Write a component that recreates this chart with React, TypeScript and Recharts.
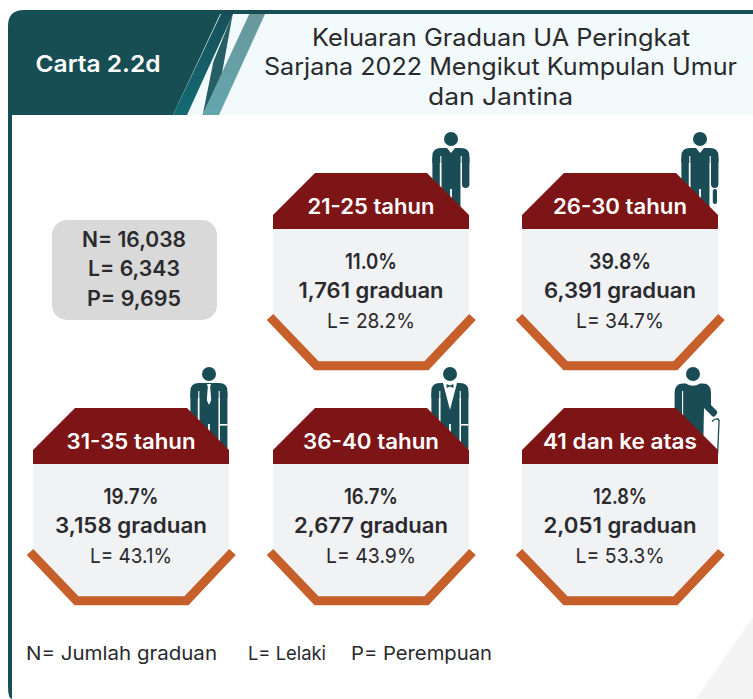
import React from "react";
import { ScatterChart, Scatter, XAxis, YAxis } from "recharts";

const WIDTH = 753;
const HEIGHT = 699;
const FONT = "Inter, 'Noto Sans', sans-serif";

const TEAL = "#164e53";
const PERSON = "#1a4c55";
const RED = "#7d1416";
const ORANGE = "#c65f2a";
const INK = "#2a2a2e";

// values
const ageGroups = ["21-25 tahun", "26-30 tahun", "31-35 tahun", "36-40 tahun", "41 dan ke atas"];
const sharePct = ["11.0%", "39.8%", "19.7%", "16.7%", "12.8%"];
const graduates = ["1,761", "6,391", "3,158", "2,677", "2,051"];
const malePct = ["28.2%", "34.7%", "43.1%", "43.9%", "53.3%"];
const totals = ["N= 16,038", "L= 6,343", "P= 9,695"];
const titleLines = [
  "Keluaran Graduan UA Peringkat",
  "Sarjana 2022 Mengikut Kumpulan Umur",
  "dan Jantina",
];
const notes = ["N= Jumlah graduan", "L= Lelaki", "P= Perempuan"];

// where each card sits in the layout (top centre of the card)
const slotX = [371, 620, 131, 371, 620];
const slotY = [173, 173, 408, 408, 408];
const personDx = [80, 80, 78, 79, 73];
const labelWidths = [127, 134, 129, 136, 154];
const shareWidths = [52, 62, 55, 54, 54];
const gradWidths = [145, 152, 152, 154, 153];
const maleWidths = [88, 88, 82, 90, 89];

const cards = ageGroups.map((age, i) => ({
  age,
  share: sharePct[i],
  grads: graduates[i],
  male: malePct[i],
  index: i,
  x: slotX[i],
  y: slotY[i],
}));

type TxtProps = {
  x: number;
  y: number;
  size: number;
  weight?: number;
  fill?: string;
  anchor?: "start" | "middle";
  width: number;
  children: React.ReactNode;
};

const Txt = ({ x, y, size, weight = 400, fill = INK, anchor = "middle", width, children }: TxtProps) => (
  <text
    x={x}
    y={y}
    fontFamily={FONT}
    fontSize={size}
    fontWeight={weight}
    fill={fill}
    textAnchor={anchor}
    textLength={width}
    lengthAdjust="spacingAndGlyphs"
  >
    {children}
  </text>
);

const Person = ({ x, y, kind }: { x: number; y: number; kind: number }) => {
  const longArms = kind === 2 || kind === 3;
  const armEnd = longArms ? 74 : 46;
  if (kind === 4) {
    return (
      <g transform={`translate(${x},${y})`}>
        <path
          d="M-18.4 19 Q-18.4 9.5 -10 9.5 L-7 9.5 Q0 14 7 9.5 L10 9.5 Q18 9.5 18 19 L18 31 L24 37 Q25 39 23 41 L21.5 42.5 Q20 43 19 42 L11 34 L10 84 L-10 84 L-10.6 80 L-18.4 80 Z"
          fill={PERSON}
        />
        <circle cx={0} cy={0} r={7} fill={PERSON} />
        <line x1={-10.4} y1={17} x2={-10.4} y2={84} stroke="#fff" strokeWidth={1.1} />
        <path
          d="M19 47.5 Q21.5 44.5 24.5 45 Q26.5 45.5 26 48 L24.6 80"
          fill="none"
          stroke={PERSON}
          strokeWidth={1.3}
        />
      </g>
    );
  }
  return (
    <g transform={`translate(${x},${y})`}>
      <circle cx={0} cy={0} r={7} fill={PERSON} />
      {/* shoulders and torso */}
      <path
        d="M-18.6 17 Q-18.6 9 -10 9 L10 9 Q18.4 9 18.4 17 L18.4 24 L9.7 24 L9.7 84 L-9.7 84 L-9.7 24 L-18.6 24 Z"
        fill={PERSON}
      />
      <rect x={-18.6} y={16} width={7.4} height={armEnd - 16 + 3} rx={3.7} fill={PERSON} />
      <rect x={11} y={16} width={7.4} height={armEnd - 16 + 3} rx={3.7} fill={PERSON} />
      <line x1={-10.2} y1={17} x2={-10.2} y2={84} stroke="#fff" strokeWidth={1.1} />
      <line x1={10.2} y1={17} x2={10.2} y2={84} stroke="#fff" strokeWidth={1.1} />
      <line x1={0} y1={50} x2={0} y2={84} stroke="#fff" strokeWidth={1.8} />
      {kind === 0 && <path d="M-4 9 L0 14 L4 9 Z" fill="#fff" />}
      {kind === 1 && (
        <>
          <path d="M-4 9 L0 14 L4 9 Z" fill="#fff" />
          <rect x={12.8} y={50} width={4.2} height={15} rx={2} fill={PERSON} />
        </>
      )}
      {kind === 2 && (
        <>
          <path d="M-2 10 L2 10 L1.2 13 L2.2 26 L0 31 L-2.2 26 L-1.2 13 Z" fill="#fff" />
          <rect x={11} y={50} width={7.4} height={1.6} fill="#fff" />
        </>
      )}
      {kind === 3 && (
        <>
          <path d="M-7 9 L7 9 L0 36 Z" fill="#fff" />
          <path d="M-3.4 10 L0 11.6 L3.4 10 L3.4 14 L0 12.6 L-3.4 14 Z" fill={PERSON} />
          <rect x={11} y={50} width={7.4} height={1.6} fill="#fff" />
        </>
      )}
    </g>
  );
};

const Card = (props: any) => {
  const { cx, cy, payload } = props;
  const i = payload.index;
  return (
    <g>
      <Person x={cx + personDx[i]} y={cy - 34} kind={i} />
      <polygon
        points={`${cx - 98},${cy + 50} ${cx + 98},${cy + 50} ${cx + 98},${cy + 146} ${cx + 54},${cy + 190} ${cx - 54},${cy + 190} ${cx - 98},${cy + 146}`}
        fill="#f1f2f4"
      />
      <polygon
        points={`${cx - 56},${cy} ${cx + 56},${cy} ${cx + 98},${cy + 42} ${cx + 98},${cy + 56} ${cx - 98},${cy + 56} ${cx - 98},${cy + 42}`}
        fill={RED}
      />
      <polyline
        points={`${cx - 101},${cy + 144} ${cx - 54.5},${cy + 192.7} ${cx + 55.5},${cy + 192.7} ${cx + 101.5},${cy + 144}`}
        fill="none"
        stroke={ORANGE}
        strokeWidth={9}
      />
      <Txt x={cx} y={cy + 40.5} size={21} weight={600} fill="#fff" width={labelWidths[i]}>
        {payload.age}
      </Txt>
      <Txt x={cx} y={cy + 96} size={21} weight={600} width={shareWidths[i]}>
        {payload.share}
      </Txt>
      <Txt x={cx} y={cy + 125} size={21} weight={600} width={gradWidths[i]}>
        {payload.grads} graduan
      </Txt>
      <Txt x={cx} y={cy + 155} size={20.5} width={maleWidths[i]}>
        L= {payload.male}
      </Txt>
    </g>
  );
};

const Frame = () => (
  <>
    <defs>
      <linearGradient id="bandA" x1="0" y1="0" x2="0" y2="1">
        <stop offset="0" stopColor="#17505a" />
        <stop offset="1" stopColor="#136a73" />
      </linearGradient>
      <linearGradient id="bandB" x1="0" y1="0" x2="0" y2="1">
        <stop offset="0" stopColor="#69989a" />
        <stop offset="1" stopColor="#63a6ae" />
      </linearGradient>
    </defs>
    <rect x={0} y={0} width={WIDTH} height={HEIGHT} fill="#fff" />
    <polygon points="753,617 753,699 696,699" fill="#f4f4f4" />
    <rect x={170} y={12} width={583} height={103} fill="#f2fafb" />
    <rect x={170} y={10} width={583} height={4} fill={TEAL} />
    <path d="M8 699 L8 26 Q8 10 24 10 L222 10 L173 115 L12 115 L12 699 Z" fill={TEAL} />
    <path d="M8 686 Q8 699 12 699 L8 699 Z" fill="#fff" />
    <polygon points="221,14 233,14 187,115 173,115" fill="url(#bandA)" />
    <polygon points="232.7,14 213.3,62 202.7,115 221.7,75" fill="#255f63" />
    <polygon points="249.3,14 265,14 219,115 202.3,115" fill="url(#bandB)" />
    <Txt x={35.5} y={71.5} size={23.5} weight={600} fill="#fff" anchor="start" width={125}>
      Carta 2.2d
    </Txt>
    <Txt x={501} y={45.5} size={24} width={378}>{titleLines[0]}</Txt>
    <Txt x={500.5} y={75} size={24} width={473}>{titleLines[1]}</Txt>
    <Txt x={500.5} y={104.5} size={24} width={145}>{titleLines[2]}</Txt>
    <rect x={52} y={220} width={165} height={100} rx={15} fill="#d9d9d9" />
    <Txt x={134} y={247} size={21} weight={600} width={104}>{totals[0]}</Txt>
    <Txt x={134} y={276} size={21} weight={600} width={92}>{totals[1]}</Txt>
    <Txt x={134} y={306} size={21} weight={600} width={94}>{totals[2]}</Txt>
    <Txt x={26} y={660} size={19} anchor="start" width={191}>{notes[0]}</Txt>
    <Txt x={248} y={660} size={19} anchor="start" width={78}>{notes[1]}</Txt>
    <Txt x={351} y={660} size={19} anchor="start" width={141}>{notes[2]}</Txt>
  </>
);

export default function App() {
  return (
    <div style={{ position: "absolute", left: 0, top: 0, width: WIDTH, height: HEIGHT }}>
      <ScatterChart width={WIDTH} height={HEIGHT} margin={{ top: 0, right: 0, bottom: 0, left: 0 }}>
        <XAxis type="number" dataKey="x" domain={[0, WIDTH]} hide />
        <YAxis type="number" dataKey="y" domain={[0, HEIGHT]} reversed hide />
        <Frame />
        <Scatter data={cards} shape={Card} isAnimationActive={false} />
      </ScatterChart>
    </div>
  );
}
